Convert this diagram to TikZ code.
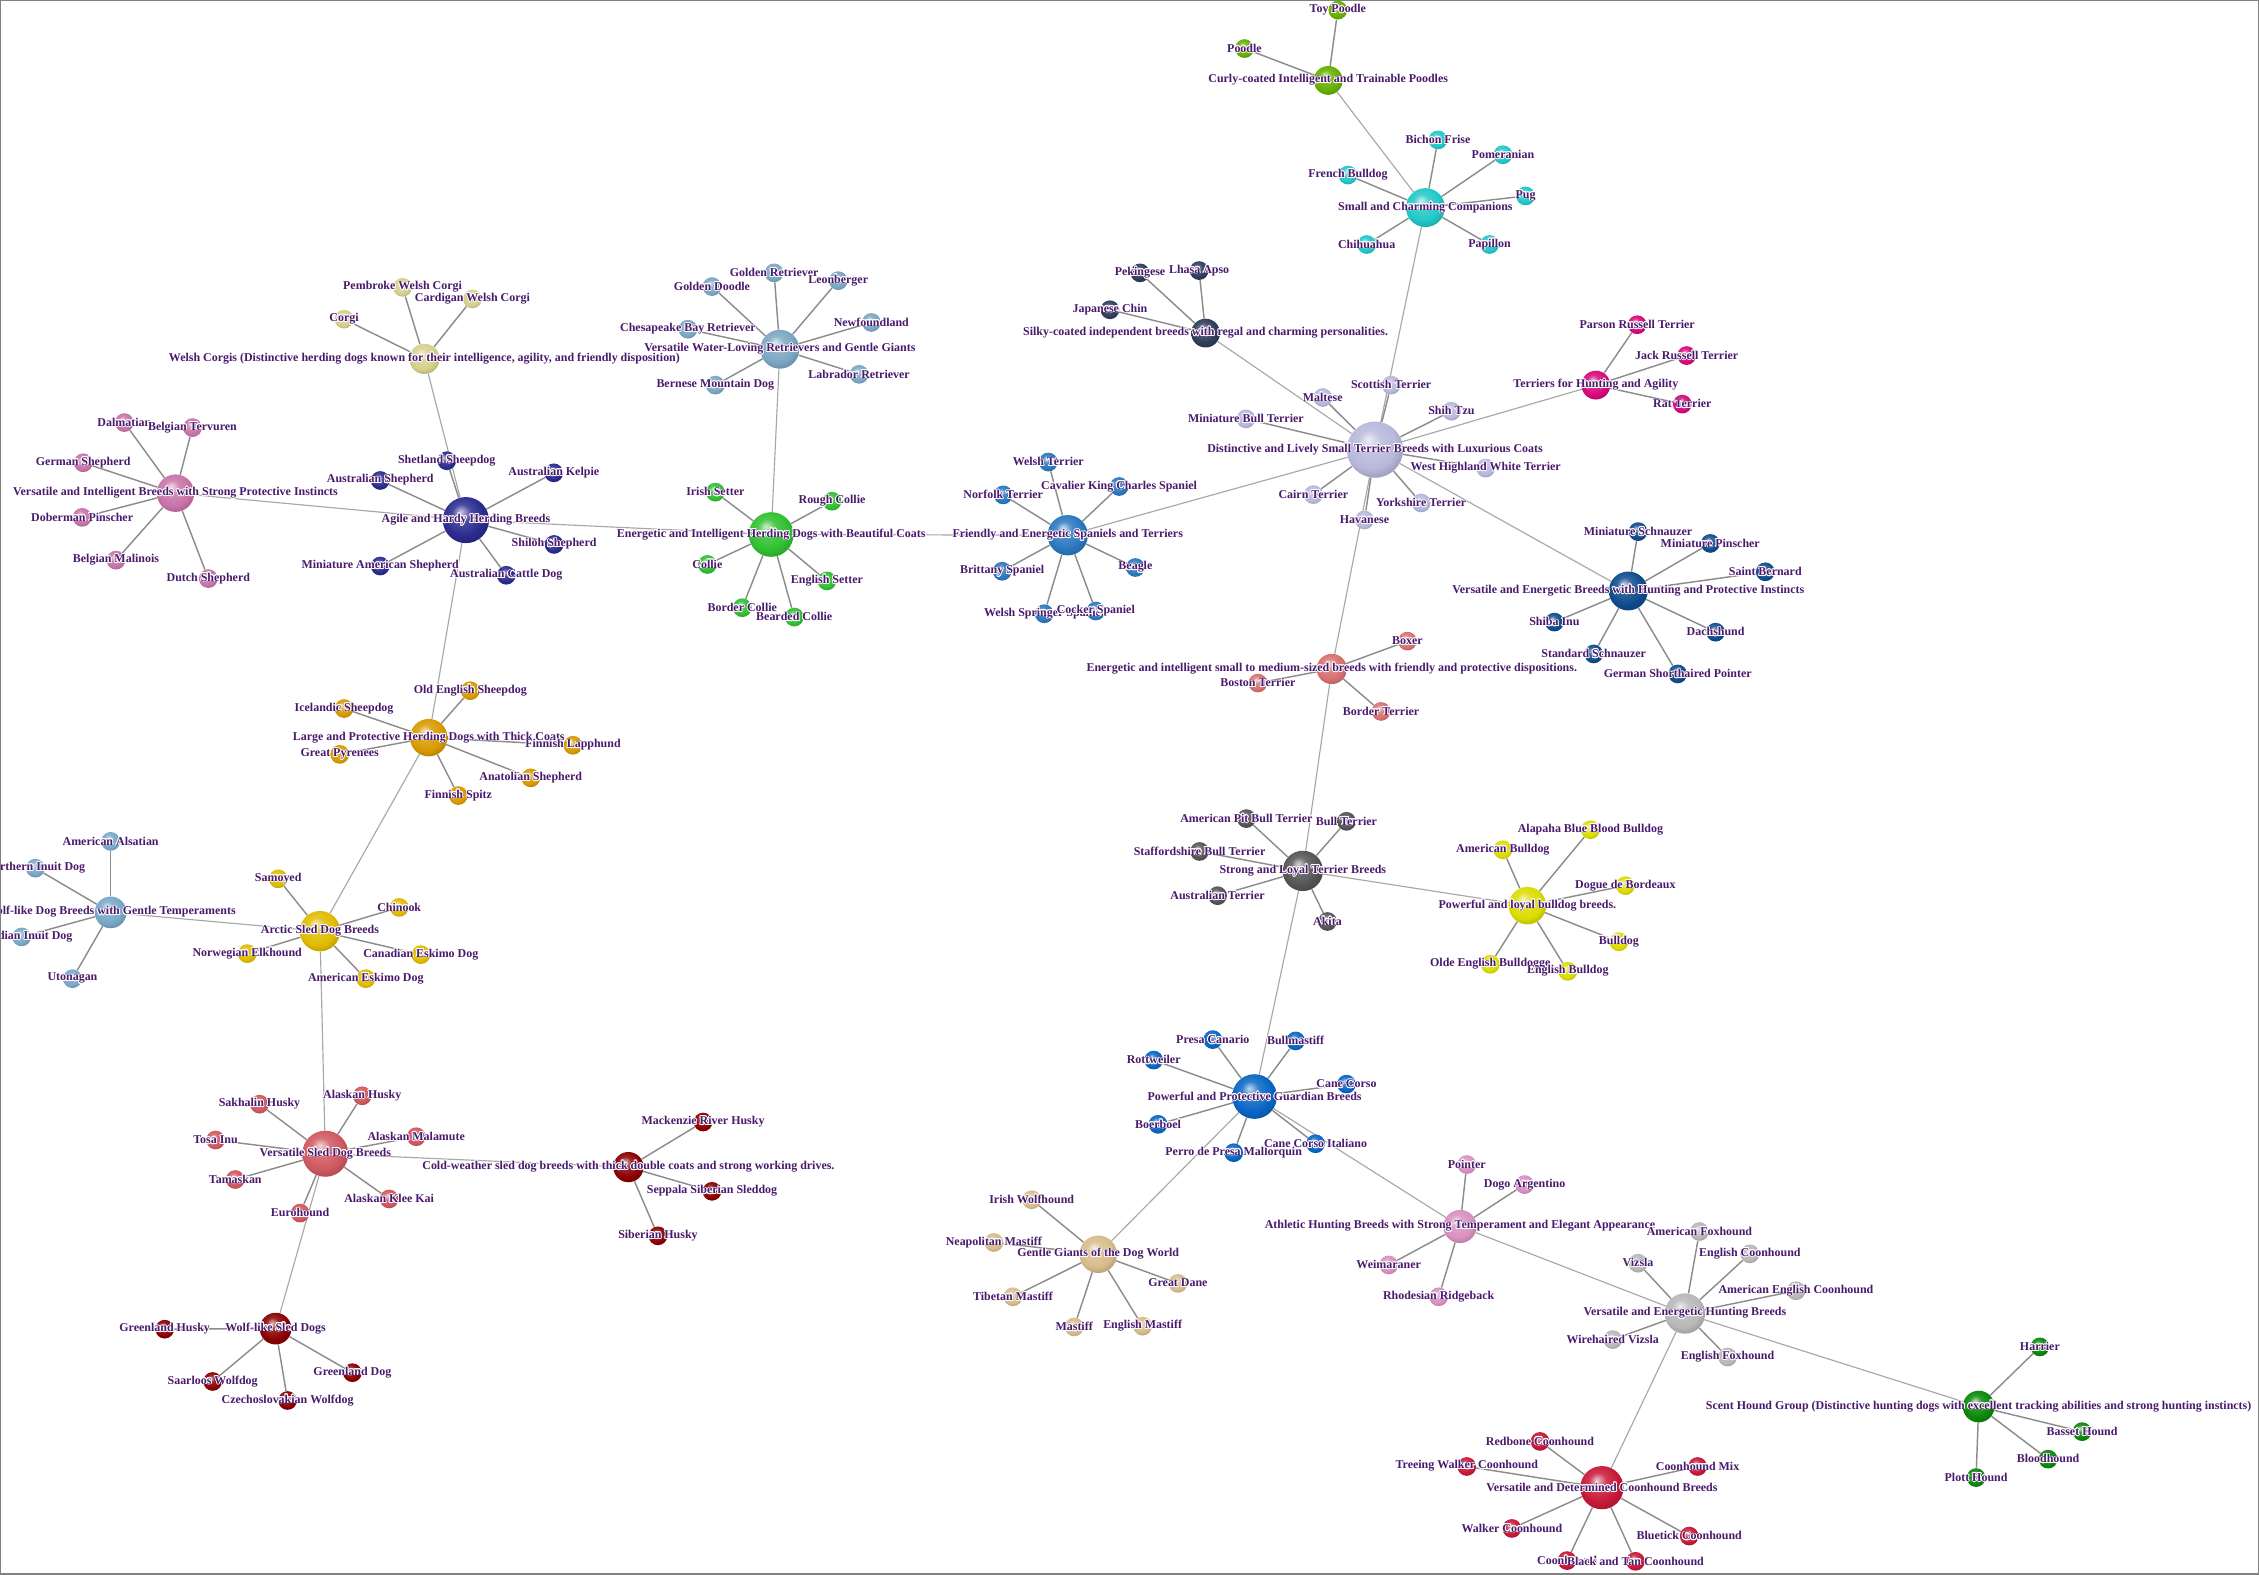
\documentclass[tikz,border=0pt]{standalone}
\usepackage{fontspec}
\setmainfont{Liberation Serif}
\usepackage{contour}
\contourlength{0.5pt}
\contournumber{16}
\pgfdeclarelayer{bg}
\pgfdeclarelayer{fg}
\pgfsetlayers{bg,main,fg}
\definecolor{lblc}{HTML}{4A1A6C}
\definecolor{ehub}{HTML}{A8A8A8}
\definecolor{eleaf}{HTML}{8C8C8C}
\definecolor{cWC}{HTML}{D6D08E}
\definecolor{cAG}{HTML}{2B2B90}
\definecolor{cVI}{HTML}{C873A8}
\definecolor{cWR}{HTML}{7BA7C2}
\definecolor{cEH}{HTML}{30C030}
\definecolor{cSP}{HTML}{2A78C0}
\definecolor{cDT}{HTML}{B8B8DC}
\definecolor{cSC}{HTML}{20C8C8}
\definecolor{cCU}{HTML}{66B000}
\definecolor{cSK}{HTML}{2E3C5A}
\definecolor{cTH}{HTML}{D8087A}
\definecolor{cVP}{HTML}{0E4C8C}
\definecolor{cES}{HTML}{D87070}
\definecolor{cSL}{HTML}{555555}
\definecolor{cBD}{HTML}{DCDC00}
\definecolor{cGU}{HTML}{0866C4}
\definecolor{cGG}{HTML}{D8BC8A}
\definecolor{cAT}{HTML}{D890C0}
\definecolor{cVH}{HTML}{B8B8B8}
\definecolor{cSH}{HTML}{0A880A}
\definecolor{cCH}{HTML}{C81838}
\definecolor{cLP}{HTML}{D89A00}
\definecolor{cAR}{HTML}{E0BC00}
\definecolor{cWG}{HTML}{78A8C8}
\definecolor{cVS}{HTML}{D05860}
\definecolor{cCW}{HTML}{8B0000}
\definecolor{cWS}{HTML}{8B0000}
\makeatletter
\pgfdeclareradialshading[tikz@ball]{softball}{\pgfqpoint{-6bp}{9bp}}{%
 color(0bp)=(tikz@ball!25!white);
 color(10bp)=(tikz@ball!85!white);
 color(22bp)=(tikz@ball);
 color(33bp)=(tikz@ball!78!black);
 color(50bp)=(tikz@ball!60!black)}
\tikzset{soft ball color/.code={\pgfutil@colorlet{tikz@ball}{#1}\def\tikz@shading{softball}\tikz@addmode{\tikz@mode@shadetrue}}}
\makeatother
\tikzset{
  ballnode/.style={circle, inner sep=0pt, minimum size=#1, draw=none},
  lbl/.style={font=\bfseries\fontsize{8.3}{10}\selectfont, text=lblc, inner sep=0pt},
  hubedge/.style={draw=ehub, line width=0.8pt},
  leafedge/.style={draw=eleaf, line width=1pt},
}
\newcommand{\dognode}[6]{%
  \node[ballnode=#4pt, soft ball color=#5] (#1) at (#2,#3) {};
  \begin{pgfonlayer}{fg}\node[lbl] (#1-l) at (#1) {\contour{white}{#6}};\end{pgfonlayer}%
}
\newcommand{\spokes}[2]{\foreach \l in {#2}{\draw[leafedge] (#1) -- (\l);}}
\begin{document}
\begin{tikzpicture}[x=1pt,y=-1pt]
\useasboundingbox (0,0) rectangle (1568,1093);
\begin{pgfonlayer}{bg}\fill[white] (0,0) rectangle (1568,1093);\end{pgfonlayer}
% Welsh Corgis
\dognode{wc}{294.6}{249.1}{21}{cWC}{Welsh Corgis (Distinctive herding dogs known for their intelligence, agility, and friendly disposition)}
\dognode{pem}{279.4}{199.4}{13}{cWC}{Pembroke Welsh Corgi}
\dognode{card}{327.9}{207.5}{13}{cWC}{Cardigan Welsh Corgi}
\dognode{corgi}{238.8}{221.5}{13}{cWC}{Corgi}
% Agile
\dognode{ag}{323.4}{361}{32}{cAG}{Agile and Hardy Herding Breeds}
\dognode{shet}{310.1}{319.8}{13}{cAG}{Shetland Sheepdog}
\dognode{aussh}{263.9}{333.5}{13}{cAG}{Australian Shepherd}
\dognode{kelp}{384.4}{328.2}{13}{cAG}{Australian Kelpie}
\dognode{shil}{384.6}{377.9}{13}{cAG}{Shiloh Shepherd}
\dognode{acd}{351.4}{399.3}{13}{cAG}{Australian Cattle Dog}
\dognode{mas}{263.9}{392.9}{13}{cAG}{Miniature American Shepherd}
% Versatile Intelligent
\dognode{vi}{121.8}{342.3}{26}{cVI}{Versatile and Intelligent Breeds with Strong Protective Instincts}
\dognode{dalm}{86.3}{293.3}{13}{cVI}{Dalmatian}
\dognode{terv}{133.6}{296.8}{13}{cVI}{Belgian Tervuren}
\dognode{gsd}{57.8}{321.2}{13}{cVI}{German Shepherd}
\dognode{dob}{57}{359.1}{13}{cVI}{Doberman Pinscher}
\dognode{mal}{80.5}{388.8}{13}{cVI}{Belgian Malinois}
\dognode{dutch}{144.6}{401.6}{13}{cVI}{Dutch Shepherd}
% Retrievers
\dognode{wr}{541.3}{242.4}{27}{cWR}{Versatile Water-Loving Retrievers and Gentle Giants}
\dognode{gret}{537.3}{189.4}{13}{cWR}{Golden Retriever}
\dognode{gdood}{494.2}{198.9}{13}{cWR}{Golden Doodle}
\dognode{leon}{581.8}{194.8}{13}{cWR}{Leonberger}
\dognode{newf}{604.8}{223.8}{13}{cWR}{Newfoundland}
\dognode{chesa}{477.5}{228.5}{13}{cWR}{Chesapeake Bay Retriever}
\dognode{lab}{596.3}{259.8}{13}{cWR}{Labrador Retriever}
\dognode{bern}{496.5}{267.3}{13}{cWR}{Bernese Mountain Dog}
% Energetic herding
\dognode{eh}{535.3}{371}{31}{cEH}{Energetic and Intelligent Herding Dogs with Beautiful Coats}
\dognode{iset}{496.5}{341.6}{13}{cEH}{Irish Setter}
\dognode{rcol}{577.5}{347.9}{13}{cEH}{Rough Collie}
\dognode{col}{491}{391.8}{13}{cEH}{Collie}
\dognode{eset}{574}{403.2}{13}{cEH}{English Setter}
\dognode{bcol}{515.2}{421.8}{13}{cEH}{Border Collie}
\dognode{bearc}{551.3}{428.3}{13}{cEH}{Bearded Collie}
% Spaniels
\dognode{sp}{741.1}{371.5}{28}{cSP}{Friendly and Energetic Spaniels and Terriers}
\dognode{welt}{727.6}{320.7}{13}{cSP}{Welsh Terrier}
\dognode{norf}{696.3}{343.5}{13}{cSP}{Norfolk Terrier}
\dognode{cav}{776.8}{337.7}{13}{cSP}{Cavalier King Charles Spaniel}
\dognode{britt}{695.6}{396.5}{13}{cSP}{Brittany Spaniel}
\dognode{beag}{788.1}{393.9}{13}{cSP}{Beagle}
\dognode{wss}{724.8}{426}{13}{cSP}{Welsh Springer Spaniel}
\dognode{cock}{760.6}{424.1}{13}{cSP}{Cocker Spaniel}
% Distinctive
\dognode{dt}{954.4}{312.1}{39}{cDT}{Distinctive and Lively Small Terrier Breeds with Luxurious Coats}
\dognode{scot}{965.6}{267.3}{13}{cDT}{Scottish Terrier}
\dognode{malt}{918.1}{275.9}{13}{cDT}{Maltese}
\dognode{shih}{1007.4}{285.4}{13}{cDT}{Shih Tzu}
\dognode{mbt}{864.8}{290.7}{13}{cDT}{Miniature Bull Terrier}
\dognode{westie}{1031.2}{324.9}{13}{cDT}{West Highland White Terrier}
\dognode{cairn}{911.6}{343.3}{13}{cDT}{Cairn Terrier}
\dognode{york}{986.4}{349.1}{13}{cDT}{Yorkshire Terrier}
\dognode{hav}{947.1}{360.9}{13}{cDT}{Havanese}
% Small and charming
\dognode{sc}{989.4}{144.1}{27}{cSC}{Small and Charming Companions}
\dognode{bich}{998.1}{97.1}{13}{cSC}{Bichon Frise}
\dognode{pom}{1043.2}{107.4}{13}{cSC}{Pomeranian}
\dognode{frb}{935.6}{121.5}{13}{cSC}{French Bulldog}
\dognode{pug}{1058.9}{136}{13}{cSC}{Pug}
\dognode{chi}{948.6}{169.7}{13}{cSC}{Chihuahua}
\dognode{pap}{1033.9}{169.7}{13}{cSC}{Papillon}
% Curly
\dognode{cu}{921.9}{55.8}{20}{cCU}{Curly-coated Intelligent and Trainable Poodles}
\dognode{toyp}{928.6}{7}{13}{cCU}{Toy Poodle}
\dognode{pood}{863.8}{33.7}{13}{cCU}{Poodle}
% Silky
\dognode{sk}{836.8}{231.2}{20}{cSK}{Silky-coated independent breeds with regal and charming personalities.}
\dognode{peke}{791.3}{189.4}{13}{cSK}{Pekingese}
\dognode{lhasa}{832.3}{187.8}{13}{cSK}{Lhasa Apso}
\dognode{jchin}{770.4}{215}{13}{cSK}{Japanese Chin}
% Terriers hunting
\dognode{th}{1107.7}{267.3}{20}{cTH}{Terriers for Hunting and Agility}
\dognode{parson}{1136.4}{225.4}{13}{cTH}{Parson Russell Terrier}
\dognode{jack}{1170.7}{246.8}{13}{cTH}{Jack Russell Terrier}
\dognode{rat}{1167.7}{280.5}{13}{cTH}{Rat Terrier}
% VEHP
\dognode{vp}{1130.2}{410.2}{27}{cVP}{Versatile and Energetic Breeds with Hunting and Protective Instincts}
\dognode{msch}{1137}{369}{13}{cVP}{Miniature Schnauzer}
\dognode{mpin}{1187.1}{377.2}{13}{cVP}{Miniature Pinscher}
\dognode{stb}{1225.3}{396.9}{13}{cVP}{Saint Bernard}
\dognode{dach}{1190.8}{438.8}{13}{cVP}{Dachshund}
\dognode{shiba}{1078.9}{431.8}{13}{cVP}{Shiba Inu}
\dognode{ssch}{1106.2}{453.9}{13}{cVP}{Standard Schnauzer}
\dognode{gsp}{1164.5}{467.8}{13}{cVP}{German Shorthaired Pointer}
% Energetic small-medium
\dognode{es}{924.4}{464.3}{21}{cES}{Energetic and intelligent small to medium-sized breeds with friendly and protective dispositions.}
\dognode{boxer}{976.9}{445}{13}{cES}{Boxer}
\dognode{bost}{873.1}{474.1}{13}{cES}{Boston Terrier}
\dognode{bordt}{958.6}{493.8}{13}{cES}{Border Terrier}
% Strong loyal
\dognode{sl}{904.3}{604.5}{28}{cSL}{Strong and Loyal Terrier Breeds}
\dognode{apbt}{865.1}{568.2}{13}{cSL}{American Pit Bull Terrier}
\dognode{bullt}{934.6}{570.1}{13}{cSL}{Bull Terrier}
\dognode{staff}{832.6}{591}{13}{cSL}{Staffordshire Bull Terrier}
\dognode{aust}{845.1}{621.7}{13}{cSL}{Australian Terrier}
\dognode{akita}{921.4}{639.6}{13}{cSL}{Akita}
% Bulldog
\dognode{bd}{1060.2}{628.6}{26}{cBD}{Powerful and loyal bulldog breeds.}
\dognode{alap}{1103.9}{575.9}{13}{cBD}{Alapaha Blue Blood Bulldog}
\dognode{amb}{1043.1}{589.8}{13}{cBD}{American Bulldog}
\dognode{dogue}{1128.2}{614.7}{13}{cBD}{Dogue de Bordeaux}
\dognode{bulld}{1123.7}{653.7}{13}{cBD}{Bulldog}
\dognode{olde}{1034.4}{669.3}{13}{cBD}{Olde English Bulldogge}
\dognode{engb}{1088.2}{674.2}{13}{cBD}{English Bulldog}
% Guardian
\dognode{gu}{870.8}{761.1}{31}{cGU}{Powerful and Protective Guardian Breeds}
\dognode{presa}{841.8}{721.6}{13}{cGU}{Presa Canario}
\dognode{bullm}{899.3}{722.5}{13}{cGU}{Bullmastiff}
\dognode{rott}{800.8}{735.8}{13}{cGU}{Rottweiler}
\dognode{canec}{934.6}{752.5}{13}{cGU}{Cane Corso}
\dognode{boer}{803.8}{780.4}{13}{cGU}{Boerboel}
\dognode{perro}{856.3}{800.1}{13}{cGU}{Perro de Presa Mallorquin}
\dognode{ccit}{913.1}{793.9}{13}{cGU}{Cane Corso Italiano}
% Gentle giants
\dognode{gg}{762.3}{870.6}{26}{cGG}{Gentle Giants of the Dog World}
\dognode{iwolf}{716.1}{832.7}{13}{cGG}{Irish Wolfhound}
\dognode{neap}{689.8}{862.4}{13}{cGG}{Neapolitan Mastiff}
\dognode{tib}{703.1}{900.1}{13}{cGG}{Tibetan Mastiff}
\dognode{mast}{745.6}{921}{13}{cGG}{Mastiff}
\dognode{engm}{793.1}{920.5}{13}{cGG}{English Mastiff}
\dognode{gdane}{817.6}{890.8}{13}{cGG}{Great Dane}
% Athletic
\dognode{ath}{1013.4}{851.3}{23}{cAT}{Athletic Hunting Breeds with Strong Temperament and Elegant Appearance}
\dognode{point}{1018.1}{808.3}{13}{cAT}{Pointer}
\dognode{dogo}{1058.2}{822.2}{13}{cAT}{Dogo Argentino}
\dognode{weim}{963.9}{878}{13}{cAT}{Weimaraner}
\dognode{rhod}{998.6}{900.1}{13}{cAT}{Rhodesian Ridgeback}
% VE hunting
\dognode{vh}{1169.5}{911.7}{28}{cVH}{Versatile and Energetic Hunting Breeds}
\dognode{amfox}{1179.6}{854.8}{13}{cVH}{American Foxhound}
\dognode{engc}{1214.6}{870.3}{13}{cVH}{English Coonhound}
\dognode{amengc}{1246.6}{895.9}{13}{cVH}{American English Coonhound}
\dognode{vizs}{1137}{876.8}{13}{cVH}{Vizsla}
\dognode{wvizs}{1119.4}{929.8}{13}{cVH}{Wirehaired Vizsla}
\dognode{engfox}{1199.1}{941.9}{13}{cVH}{English Foxhound}
% Scent hound
\dognode{sh}{1373.4}{976.3}{22}{cSH}{Scent Hound Group (Distinctive hunting dogs with excellent tracking abilities and strong hunting instincts)}
\dognode{harr}{1415.9}{934.9}{13}{cSH}{Harrier}
\dognode{bass}{1445.2}{993.7}{13}{cSH}{Basset Hound}
\dognode{blood}{1421.6}{1012.8}{13}{cSH}{Bloodhound}
\dognode{plott}{1371.6}{1025.6}{13}{cSH}{Plott Hound}
% Coonhounds
\dognode{ch}{1111.9}{1032.6}{30}{cCH}{Versatile and Determined Coonhound Breeds}
\dognode{redb}{1068.9}{1000.5}{13}{cCH}{Redbone Coonhound}
\dognode{treew}{1018.1}{1017.9}{13}{cCH}{Treeing Walker Coonhound}
\dognode{cmix}{1178.3}{1017.9}{13}{cCH}{Coonhound Mix}
\dognode{walk}{1049.4}{1060.9}{13}{cCH}{Walker Coonhound}
\dognode{blue}{1172.5}{1066.2}{13}{cCH}{Bluetick Coonhound}
\dognode{coon}{1087.7}{1083.2}{13}{cCH}{Coonhound}
\dognode{btc}{1135.2}{1083.7}{13}{cCH}{Black and Tan Coonhound}
% Large protective
\dognode{lp}{297.6}{512}{26}{cLP}{Large and Protective Herding Dogs with Thick Coats}
\dognode{oes}{326.4}{479.4}{13}{cLP}{Old English Sheepdog}
\dognode{ice}{238.8}{491.8}{13}{cLP}{Icelandic Sheepdog}
\dognode{flap}{397.7}{517.3}{13}{cLP}{Finnish Lapphund}
\dognode{pyr}{235.8}{523.6}{13}{cLP}{Great Pyrenees}
\dognode{anat}{368.4}{539.9}{13}{cLP}{Anatolian Shepherd}
\dognode{fspitz}{318.1}{552.2}{13}{cLP}{Finnish Spitz}
% Arctic
\dognode{ar}{222.1}{646.3}{28}{cAR}{Arctic Sled Dog Breeds}
\dognode{samo}{193.1}{610}{13}{cAR}{Samoyed}
\dognode{chin}{277.1}{629.8}{13}{cAR}{Chinook}
\dognode{norw}{171.6}{661.9}{13}{cAR}{Norwegian Elkhound}
\dognode{caned}{292.1}{662.6}{13}{cAR}{Canadian Eskimo Dog}
\dognode{amesk}{253.9}{679.3}{13}{cAR}{American Eskimo Dog}
% Wolf-like gentle
\dognode{wg}{76.8}{633.3}{22}{cWG}{Wolf-like Dog Breeds with Gentle Temperaments}
\dognode{amals}{76.8}{584}{13}{cWG}{American Alsatian}
\dognode{ninuit}{24.5}{602.6}{13}{cWG}{Northern Inuit Dog}
\dognode{cinuit}{15}{650.3}{13}{cWG}{Canadian Inuit Dog}
\dognode{uton}{50.3}{679.3}{13}{cWG}{Utonagan}
% Versatile sled
\dognode{vs}{225.8}{800.8}{32}{cVS}{Versatile Sled Dog Breeds}
\dognode{akh}{251.4}{760.6}{13}{cVS}{Alaskan Husky}
\dognode{sakh}{180.1}{766.4}{13}{cVS}{Sakhalin Husky}
\dognode{malam}{288.9}{789}{13}{cVS}{Alaskan Malamute}
\dognode{tosa}{149.6}{791.3}{13}{cVS}{Tosa Inu}
\dognode{tama}{163.3}{818.7}{13}{cVS}{Tamaskan}
\dognode{klee}{270.1}{832.2}{13}{cVS}{Alaskan Klee Kai}
\dognode{euro}{208.3}{842}{13}{cVS}{Eurohound}
% Cold weather
\dognode{cw}{436.2}{810.1}{21}{cCW}{Cold-weather sled dog breeds with thick double coats and strong working drives.}
\dognode{mack}{488}{778.8}{13}{cCW}{Mackenzie River Husky}
\dognode{sepp}{494.2}{826.9}{13}{cCW}{Seppala Siberian Sleddog}
\dognode{sib}{456.7}{857.8}{13}{cCW}{Siberian Husky}
% Wolf-like sled
\dognode{ws}{191.3}{922.2}{22}{cWS}{Wolf-like Sled Dogs}
\dognode{ghus}{114.3}{922.6}{13}{cWS}{Greenland Husky}
\dognode{gdog}{244.6}{952.8}{13}{cWS}{Greenland Dog}
\dognode{saar}{147.6}{958.9}{13}{cWS}{Saarloos Wolfdog}
\dognode{czech}{199.6}{972.1}{13}{cWS}{Czechoslovakian Wolfdog}
% edges
\begin{pgfonlayer}{bg}
\foreach \a/\b in {wc/ag, vi/ag, ag/eh, ag/lp, wr/eh, eh/sp, sp/dt, dt/sc, sc/cu, dt/sk, dt/th, dt/vp, dt/es, es/sl, sl/bd, sl/gu, gu/gg, gu/ath, ath/vh, vh/sh, vh/ch, lp/ar, ar/wg, ar/vs, vs/cw, vs/ws}
  {\draw[hubedge] (\a) -- (\b);}
\spokes{wc}{pem,card,corgi}
\spokes{ag}{shet,aussh,kelp,shil,acd,mas}
\spokes{vi}{dalm,terv,gsd,dob,mal,dutch}
\spokes{wr}{gret,gdood,leon,newf,chesa,lab,bern}
\spokes{eh}{iset,rcol,col,eset,bcol,bearc}
\spokes{sp}{welt,norf,cav,britt,beag,wss,cock}
\spokes{dt}{scot,malt,shih,mbt,westie,cairn,york,hav}
\spokes{sc}{bich,pom,frb,pug,chi,pap}
\spokes{cu}{toyp,pood}
\spokes{sk}{peke,lhasa,jchin}
\spokes{th}{parson,jack,rat}
\spokes{vp}{msch,mpin,stb,dach,shiba,ssch,gsp}
\spokes{es}{boxer,bost,bordt}
\spokes{sl}{apbt,bullt,staff,aust,akita}
\spokes{bd}{alap,amb,dogue,bulld,olde,engb}
\spokes{gu}{presa,bullm,rott,canec,boer,perro,ccit}
\spokes{gg}{iwolf,neap,tib,mast,engm,gdane}
\spokes{ath}{point,dogo,weim,rhod}
\spokes{vh}{amfox,engc,amengc,vizs,wvizs,engfox}
\spokes{sh}{harr,bass,blood,plott}
\spokes{ch}{redb,treew,cmix,walk,blue,coon,btc}
\spokes{lp}{oes,ice,flap,pyr,anat,fspitz}
\spokes{ar}{samo,chin,norw,caned,amesk}
\spokes{wg}{amals,ninuit,cinuit,uton}
\spokes{vs}{akh,sakh,malam,tosa,tama,klee,euro}
\spokes{cw}{mack,sepp,sib}
\spokes{ws}{ghus,gdog,saar,czech}
\end{pgfonlayer}
\begin{pgfonlayer}{fg}
\draw[gray, line width=1pt] (0.5,0.5) rectangle (1567.5,1092.5);
\end{pgfonlayer}
\end{tikzpicture}
\end{document}
